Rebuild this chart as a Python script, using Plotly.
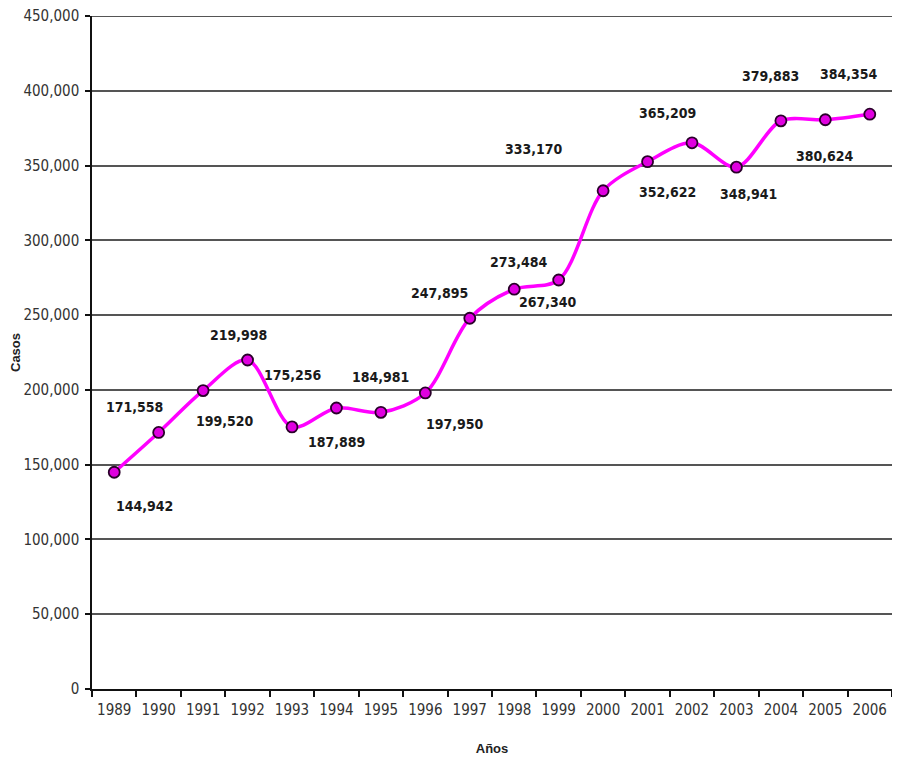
import plotly.graph_objects as go

years = ["1989", "1990", "1991", "1992", "1993", "1994", "1995", "1996", "1997",
         "1998", "1999", "2000", "2001", "2002", "2003", "2004", "2005", "2006"]
casos = [144942, 171558, 199520, 219998, 175256, 187889, 184981, 197950, 247895,
         267340, 273484, 333170, 352622, 365209, 348941, 379883, 380624, 384354]
labels = ["144,942", "171,558", "199,520", "219,998", "175,256", "187,889", "184,981",
          "197,950", "247,895", "267,340", "273,484", "333,170", "352,622", "365,209",
          "348,941", "379,883", "380,624", "384,354"]
# pixel offsets of each data label relative to its point (dx right, dy down)
label_dx = [30, -24, 22, -9, 1, 0, 0, 30, -30, 34, -40, -69, 20, -25, 12, -10, 0, -21]
label_dy = [34, -25, 30, -25, -52, 34, -35, 31, -25, 13, -18, -42, 30, -30, 27, -45, 36, -40]
y_ticks = [0, 50000, 100000, 150000, 200000, 250000, 300000, 350000, 400000, 450000]
y_ticktext = ["0", "50,000", "100,000", "150,000", "200,000", "250,000", "300,000",
              "350,000", "400,000", "450,000"]

NARROW = "Liberation Sans Narrow, Arial Narrow, DejaVu Sans Condensed, sans-serif"

fig = go.Figure()
fig.add_trace(go.Scatter(
    x=years, y=casos, mode="lines+markers",
    line=dict(color="#ff00ff", width=3.5, shape="spline", smoothing=0.9),
    marker=dict(size=11, color="#e000e0", line=dict(color="#2a002a", width=1.8)),
    hoverinfo="x+y", showlegend=False,
))

for i, (y, t, dx, dy) in enumerate(zip(casos, labels, label_dx, label_dy)):
    fig.add_annotation(x=i, y=y, text="<b>" + t + "</b>", showarrow=False, xref="x", yref="y",
                       xshift=dx, yshift=-dy,
                       font=dict(family=NARROW, size=14, color="#1a1a1a"))

# top gridline (at the upper end of the axis range)
fig.add_shape(type="line", xref="paper", yref="y", x0=0, x1=1, y0=y_ticks[-1], y1=y_ticks[-1],
              line=dict(color="#555555", width=2), layer="below")

fig.update_layout(
    width=884, height=748,
    margin=dict(l=84, r=0, t=8, b=67),
    paper_bgcolor="white", plot_bgcolor="white",
    showlegend=False,
)
fig.update_xaxes(
    type="category", range=[-0.5, 17.5], automargin=False,
    tickson="boundaries", ticks="outside", ticklen=6, tickcolor="#111", tickwidth=1.5,
    showline=True, linecolor="#111", linewidth=1.5,
    showgrid=False, tickangle=0, ticklabeloverflow="allow",
    tickfont=dict(family=NARROW, size=15, color="#333333"),
    ticklabelstandoff=6,
    title=dict(text="<b>Años</b>", font=dict(family="Liberation Sans, Arial, sans-serif", size=13, color="#222"),
               standoff=36),
)
fig.update_yaxes(
    range=[0, 450000], tickvals=y_ticks, ticktext=y_ticktext, automargin=False,
    ticks="outside", ticklen=5, tickcolor="#111", tickwidth=1.5,
    showline=True, linecolor="#111", linewidth=1.5,
    showgrid=True, gridcolor="#555555", gridwidth=2, zeroline=False,
    ticklabeloverflow="allow",
    tickfont=dict(family=NARROW, size=15, color="#333333"),
    ticklabelstandoff=3,
    title=dict(text="<b>Casos</b>", font=dict(family="Liberation Sans, Arial, sans-serif", size=13, color="#222"),
               standoff=4),
)

fig.write_html("out.html")
